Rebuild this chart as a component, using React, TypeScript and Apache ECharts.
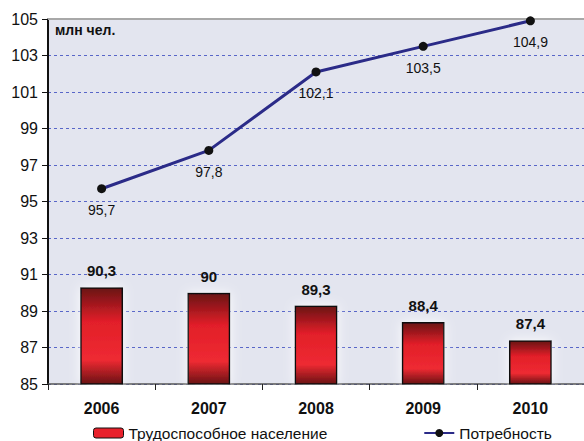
import React, { useEffect, useRef } from "react";
import * as echarts from "echarts";

const years = ["2006", "2007", "2008", "2009", "2010"];
const workingPop = [90.3, 90, 89.3, 88.4, 87.4];
const demand = [95.7, 97.8, 102.1, 103.5, 104.9];
const barName = "Трудоспособное население";
const lineName = "Потребность";
const unitLabel = "млн чел.";

const fmt = (v: number) => String(v).replace(".", ",");
const FONT = "'Liberation Sans', Arial, sans-serif";

export default function App() {
  const ref = useRef<HTMLDivElement>(null);
  useEffect(() => {
    if (!ref.current) return;
    const chart = echarts.init(ref.current, undefined, { renderer: "svg" });
    const barGrad = new echarts.graphic.LinearGradient(0, 0, 0, 1, [
      { offset: 0, color: "#6a1214" },
      { offset: 0.35, color: "#e21f29" },
      { offset: 0.75, color: "#ee2a32" },
      { offset: 1, color: "#6a1214" },
    ]);
    chart.setOption({
      animation: false,
      backgroundColor: "#ffffff",
      textStyle: { fontFamily: FONT },
      grid: {
        left: 48,
        right: 0,
        top: 19,
        bottom: 57,
        show: true,
        backgroundColor: "#e3e5ef",
        borderWidth: 0,
      },
      legend: {
        bottom: -5,
        left: 88,
        itemGap: 96,
        itemWidth: 30,
        itemHeight: 10,
        textStyle: { fontSize: 15.5, color: "#111", fontFamily: FONT },
        data: [
          { name: barName, itemStyle: { color: "#e8212b", borderColor: "#111", borderWidth: 1 } },
          { name: lineName },
        ],
      },
      graphic: [
        {
          type: "text",
          left: 55,
          top: 23,
          style: { text: unitLabel, fontSize: 14, fontWeight: "bold", fill: "#111", fontFamily: FONT },
        },
      ],
      xAxis: [
        {
          type: "category",
          data: years,
          axisLine: { lineStyle: { color: "#555", width: 1.5 } },
          axisTick: { show: true, interval: 0, length: 6, lineStyle: { color: "#222" } },
          axisLabel: { fontSize: 16, fontWeight: "bold", color: "#111", margin: 16, fontFamily: FONT },
        },
        {
          type: "category",
          data: years,
          position: "top",
          axisLine: { show: true, lineStyle: { color: "#a8a8a8", width: 2 } },
          axisTick: { show: false },
          axisLabel: { show: false },
        },
      ],
      yAxis: {
        type: "value",
        min: 85,
        max: 105,
        interval: 2,
        axisLine: { show: true, lineStyle: { color: "#111", width: 2 } },
        axisTick: { show: true, length: 6, lineStyle: { color: "#111" } },
        axisLabel: { fontSize: 16, color: "#111", margin: 10, fontFamily: FONT },
        splitLine: { lineStyle: { color: "#5866c8", type: [3, 3], width: 1 } },
      },
      series: [
        {
          name: barName,
          type: "bar",
          data: workingPop,
          barWidth: "40%",
          itemStyle: {
            color: barGrad,
            borderColor: "#111",
            borderWidth: 1.5,
            shadowColor: "rgba(255,255,255,0.9)",
            shadowBlur: 12,
          },
          label: {
            show: true,
            position: "top",
            distance: 9,
            fontSize: 15,
            fontWeight: "bold",
            color: "#111",
            fontFamily: FONT,
            formatter: (p: any) => fmt(p.value),
          },
        },
        {
          name: lineName,
          type: "line",
          data: demand,
          symbol: "circle",
          symbolSize: 9,
          lineStyle: { color: "#2b2b88", width: 3 },
          itemStyle: { color: "#111" },
          label: {
            show: true,
            position: "bottom",
            distance: 10,
            fontSize: 14,
            color: "#111",
            fontFamily: FONT,
            formatter: (p: any) => fmt(p.value),
          },
        },
      ],
    });
    return () => chart.dispose();
  }, []);
  return (
    <div
      ref={ref}
      style={{ position: "absolute", left: 0, top: 0, width: 584, height: 441 }}
    />
  );
}
